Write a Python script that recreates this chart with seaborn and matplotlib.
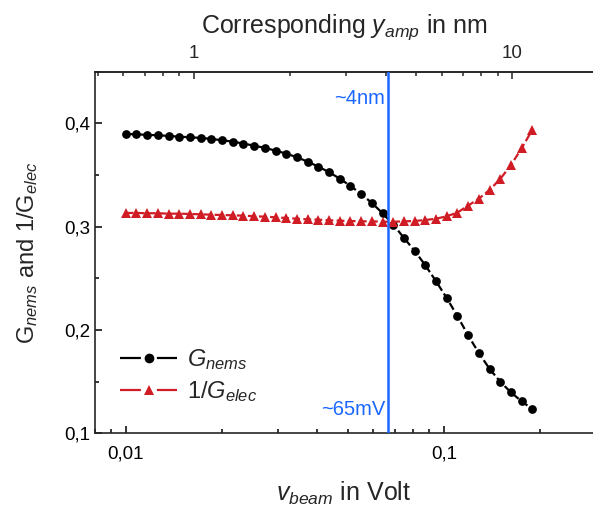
"""Gain of the NEMS and inverse electrical gain versus beam voltage."""

import matplotlib
matplotlib.use("Agg")
import matplotlib.pyplot as plt
import numpy as np
import pandas as pd
import seaborn as sns
from matplotlib.lines import Line2D
from matplotlib.ticker import FuncFormatter, LogLocator

# beam voltage (V), one entry per measurement
v_beam = [
    0.01000, 0.01080, 0.01168, 0.01261, 0.01363, 0.01473, 0.01591, 0.01720,
    0.01858, 0.02008, 0.02169, 0.02344, 0.02533, 0.02737, 0.02957, 0.03195,
    0.03452, 0.03730, 0.04031, 0.04355, 0.04706, 0.05085, 0.05494, 0.05937,
    0.06415, 0.06931, 0.07490, 0.08093, 0.08744, 0.09448, 0.1020, 0.1102,
    0.1191, 0.1287, 0.1391, 0.1503, 0.1624, 0.1755, 0.1896,
]
g_nems = [
    0.3896, 0.3893, 0.3887, 0.3884, 0.3877, 0.3870, 0.3864, 0.3858,
    0.3848, 0.3835, 0.3822, 0.3803, 0.3783, 0.3761, 0.3735, 0.3706,
    0.3671, 0.3628, 0.3580, 0.3526, 0.3464, 0.3393, 0.3316, 0.3228,
    0.3129, 0.3019, 0.2890, 0.2764, 0.2625, 0.2470, 0.2309, 0.2135,
    0.1948, 0.1777, 0.1624, 0.1499, 0.1396, 0.1309, 0.1234,
]
inv_g_elec = [
    0.3132, 0.3132, 0.3129, 0.3129, 0.3125, 0.3125, 0.3122, 0.3119,
    0.3115, 0.3112, 0.3109, 0.3106, 0.3100, 0.3096, 0.3090, 0.3083,
    0.3076, 0.3070, 0.3067, 0.3061, 0.3057, 0.3054, 0.3051, 0.3051,
    0.3047, 0.3047, 0.3051, 0.3054, 0.3064, 0.3076, 0.3100, 0.3135,
    0.3203, 0.3270, 0.3354, 0.3461, 0.3596, 0.3758, 0.3938,
]

# operating point and axis conversion
v_mark = 0.0665
NM_PER_VOLT = 61.0
x_ticks = [0.01, 0.1]
y_ticks = [0.1, 0.2, 0.3, 0.4]
top_ticks = [1, 10]

BLACK = "#000000"
RED = "#d01c24"
BLUE = "#1a66ff"
LW = 1.6

sns.set_theme(style="ticks")
plt.rcParams["font.family"] = ["Liberation Sans", "DejaVu Sans"]
plt.rcParams["mathtext.fontset"] = "custom"
plt.rcParams["mathtext.rm"] = "Liberation Sans"
plt.rcParams["mathtext.it"] = "Liberation Sans:italic"
plt.rcParams["axes.linewidth"] = 1.2


def comma(v, _pos):
    return f"{v:g}".replace(".", ",")


df = pd.DataFrame({"v": v_beam, "g_nems": g_nems, "inv_g_elec": inv_g_elec})

fig = plt.figure(figsize=(5.93, 5.11), dpi=100)
ax = fig.add_axes([0.160, 0.152, 0.840, 0.708])

sns.lineplot(data=df, x="v", y="g_nems", ax=ax, color=BLACK, marker="o",
             markersize=6.3, markeredgewidth=0, linewidth=LW,
             linestyle=(0, (3.5, 1.5)), legend=False)
sns.lineplot(data=df, x="v", y="inv_g_elec", ax=ax, color=RED, marker="^",
             markersize=6.8, markeredgewidth=0, linewidth=LW,
             linestyle=(0, (3.5, 1.5)), legend=False)

ax.axvline(v_mark, color=BLUE, linewidth=1.8, zorder=5)
ax.text(v_mark * 0.985, 0.424, "~4nm", color=BLUE, fontsize=14.5,
        ha="right", va="center")
ax.text(v_mark * 0.985, 0.1235, "~65mV", color=BLUE, fontsize=14.5,
        ha="right", va="center")

ax.set_xscale("log")
ax.set_xlim(0.008, 0.294)
ax.set_ylim(0.1, 0.45)
ax.set_xticks(x_ticks)
ax.set_yticks(y_ticks)
ax.xaxis.set_minor_locator(LogLocator(base=10, subs=np.arange(2, 10)))
ax.yaxis.set_minor_locator(plt.MultipleLocator(0.05))
ax.xaxis.set_major_formatter(FuncFormatter(comma))
ax.xaxis.set_minor_formatter(plt.NullFormatter())
ax.yaxis.set_major_formatter(FuncFormatter(comma))
ax.tick_params(which="both", direction="in", labelsize=13.5, width=1.1,
               colors="black", top=False, right=False)
ax.tick_params(which="major", length=5)
ax.tick_params(which="minor", length=3)
ax.tick_params(axis="x", which="major", pad=9)
ax.spines["right"].set_visible(False)

ax.set_xlabel(r"$v_{beam}$ in Volt", fontsize=18, labelpad=12)
ax.set_ylabel(r"$\mathrm{G}_{nems}$ and $1/\mathrm{G}_{elec}$", fontsize=17,
              labelpad=17)

top = ax.secondary_xaxis("top", functions=(lambda v: v * NM_PER_VOLT,
                                           lambda y: y / NM_PER_VOLT))
top.set_xticks(top_ticks)
top.xaxis.set_minor_locator(LogLocator(base=10, subs=np.arange(2, 10)))
top.xaxis.set_major_formatter(FuncFormatter(lambda v, _p: f"{v:g}"))
top.xaxis.set_minor_formatter(plt.NullFormatter())
top.tick_params(which="both", direction="in", labelsize=13.5, width=1.1)
top.tick_params(which="major", length=5, pad=7)
top.tick_params(which="minor", length=3)
top.set_xlabel(r"Corresponding $y_{amp}$ in nm", fontsize=18, labelpad=9)

# legend handles: long dash, marker, long dash
handles = [
    Line2D([], [], color=BLACK, marker="o", markersize=7, markeredgewidth=0,
           linewidth=LW, linestyle=(0, (9.4, 7.2))),
    Line2D([], [], color=RED, marker="^", markersize=7.5, markeredgewidth=0,
           linewidth=LW, linestyle=(0, (9.4, 7.2))),
]
ax.legend(handles, [r"$G_{nems}$", r"1/$G_{elec}$"], loc="lower left",
          bbox_to_anchor=(0.05, 0.08), frameon=False, fontsize=17,
          handlelength=2.44, handletextpad=0.4, labelspacing=0.3,
          borderaxespad=0, borderpad=0)

fig.savefig("out.png", dpi=100)
plt.close(fig)
